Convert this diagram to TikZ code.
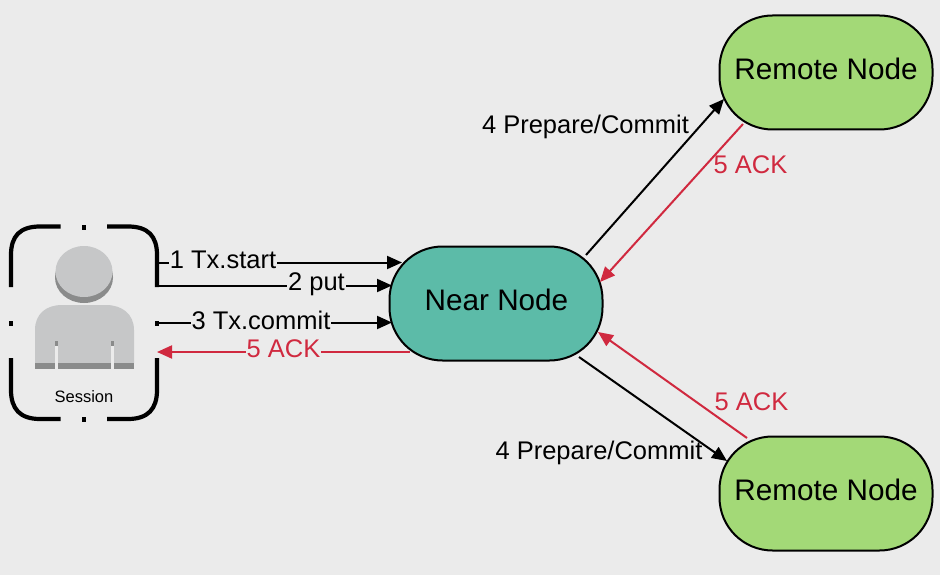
\documentclass[tikz,border=0pt]{standalone}
\usepackage{fontspec}
\setmainfont{Liberation Sans}
\usetikzlibrary{arrows.meta}
\definecolor{bgc}{HTML}{EBEBEB}
\definecolor{nearc}{HTML}{5CBBA8}
\definecolor{remotec}{HTML}{A3D977}
\definecolor{ackred}{HTML}{D0293F}
\definecolor{persona}{HTML}{C6C7C8}
\definecolor{personb}{HTML}{8A8B8B}
\tikzset{
  nodebox/.style={draw=black,line width=2pt,rounded corners=53pt,minimum width=213pt,minimum height=114pt,inner sep=0pt,font=\fontsize{29.5}{32}\selectfont},
  flow/.style={draw=black,line width=2pt,-{Triangle[length=15pt,width=13pt]}},
  ackflow/.style={draw=ackred,line width=2pt,-{Triangle[length=15pt,width=13pt]}},
  lab/.style={font=\fontsize{25.5}{28}\selectfont,inner sep=0pt,text=black},
  flab/.style={lab,fill=bgc,inner xsep=1pt},
  acklab/.style={lab,text=ackred},
  frame/.style={draw=black,line width=4.2pt,line cap=butt},
  tick/.style={fill=black,minimum width=4.5pt,minimum height=5pt,inner sep=0pt}
}
\begin{document}
\begin{tikzpicture}[x=1pt,y=-1pt]
\useasboundingbox (0,0) rectangle (940,575);
\fill[bgc] (0,0) rectangle (940,575);

% session icon
\node[minimum width=148pt,minimum height=194pt,inner sep=0pt] (session) at (84,323) {};
\draw[frame] (11,287) -- (11,255) .. controls (11,236) and (20,226.5) .. (40,226.5) -- (60.5,226.5);
\draw[frame] (107,226.5) -- (128,226.5) .. controls (148,226.5) and (157,236) .. (157,255) -- (157,287);
\draw[frame] (11,358) -- (11,390) .. controls (11,409) and (20,419) .. (40,419) -- (60.5,419);
\draw[frame] (107,419) -- (128,419) .. controls (148,419) and (157,409) .. (157,390) -- (157,358);
\node[tick] (tickt) at (84,227) {};
\node[tick] (tickb) at (84,419) {};
\node[tick] (tickl) at (11,323) {};
\node[tick] (tickr) at (157,323) {};
\fill[personb] (84,277.5) ellipse [x radius=29,y radius=25.5];
\fill[persona] (84,271.5) ellipse [x radius=28.5,y radius=25.5];
\fill[persona] (35,363) -- (35,330) .. controls (35,314) and (46,305) .. (62,305) -- (106,305) .. controls (122,305) and (134,314) .. (134,330) -- (134,363) -- cycle;
\fill[personb] (35,363) rectangle (134,369);
\fill[bgc] (55,346) rectangle (58,369);
\fill[bgc] (111,346) rectangle (114,369);
\fill[personb] (55,341) rectangle (58,346);
\fill[personb] (111,341) rectangle (114,346);
\node[font=\fontsize{16.5}{18}\selectfont,inner sep=0pt] (sessionlab) at (84,396.5) {Session};

% main nodes
\node[nodebox,fill=nearc] (near) at (496,303.5) {};
\node[inner sep=0pt,font=\fontsize{29.7}{32}\selectfont] (neartext) at (496.5,300) {Near Node};
\node[nodebox,fill=remotec] (remotea) at (826,72.5) {};
\node[inner sep=0pt,font=\fontsize{29.7}{32}\selectfont] (remoteatext) at (826,68.5) {Remote Node};
\node[nodebox,fill=remotec] (remoteb) at (826,493.5) {};
\node[inner sep=0pt,font=\fontsize{29.7}{32}\selectfont] (remotebtext) at (826,489.5) {Remote Node};

% connector end points
\coordinate (s1) at (158,262.5);
\coordinate (n1) at (402,262.5);
\coordinate (s2) at (157,285.5);
\coordinate (n2) at (392,285.5);
\coordinate (s3) at (157,322.5);
\coordinate (n3) at (392,322.5);
\coordinate (n5) at (410,352);
\coordinate (s5) at (157,352);
\coordinate (nu) at (586,255);
\coordinate (ru) at (724,99);
\coordinate (rua) at (743,124);
\coordinate (nua) at (600,282);
\coordinate (nd) at (579,357);
\coordinate (rd) at (727,461);
\coordinate (rda) at (747,438);
\coordinate (nda) at (598,332);

% connectors
\draw[flow] (s1) -- (n1);
\draw[flow] (s2) -- (n2);
\draw[flow] (s3) -- (n3);
\draw[ackflow] (n5) -- (s5);
\draw[flow] (nu) -- (ru);
\draw[ackflow] (rua) -- (nua);
\draw[flow] (nd) -- (rd);
\draw[ackflow] (rda) -- (nda);

% labels
\node[flab] (l1) at (223,260) {1 Tx.start};
\node[flab] (l2) at (316.5,284.5) {2 put};
\node[flab] (l3) at (261,320) {3 Tx.commit};
\node[flab,text=ackred] (l5) at (283.5,349) {5 ACK};
\node[lab] (l4a) at (585.5,127) {4 Prepare/Commit};
\node[acklab] (l5a) at (750.5,165) {5 ACK};
\node[acklab] (l5b) at (751.5,402) {5 ACK};
\node[lab] (l4b) at (599,452.5) {4 Prepare/Commit};
\end{tikzpicture}
\end{document}
